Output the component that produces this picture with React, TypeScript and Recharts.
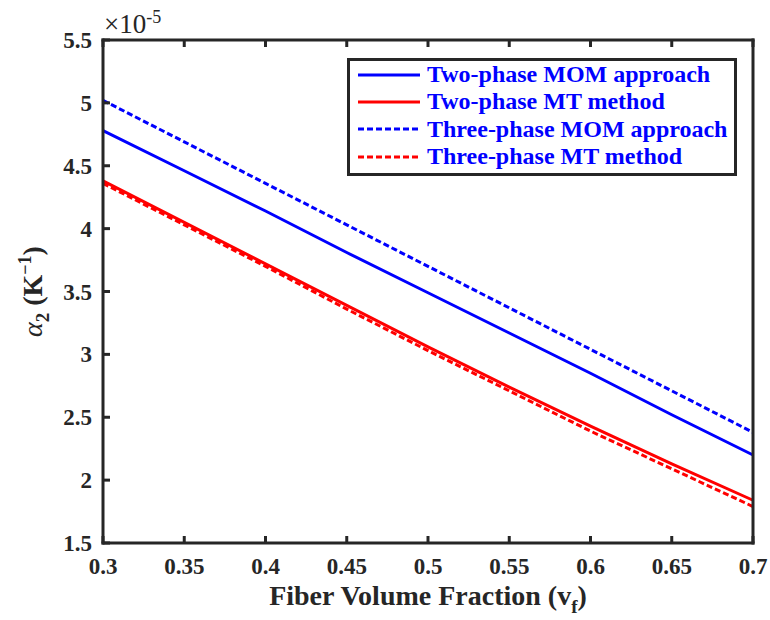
import { Label, Legend, Line, LineChart, XAxis, YAxis } from "recharts";

const vf = [0.3, 0.35, 0.4, 0.45, 0.5, 0.55, 0.6, 0.65, 0.7];
const twoPhaseMOM = [4.78, 4.46, 4.14, 3.81, 3.49, 3.17, 2.85, 2.52, 2.2];
const twoPhaseMT = [4.38, 4.05, 3.72, 3.39, 3.06, 2.74, 2.43, 2.13, 1.84];
const threePhaseMOM = [5.02, 4.69, 4.36, 4.03, 3.7, 3.37, 3.04, 2.71, 2.38];
const threePhaseMT = [4.36, 4.03, 3.7, 3.36, 3.03, 2.71, 2.39, 2.09, 1.79];

const xTicks = [0.3, 0.35, 0.4, 0.45, 0.5, 0.55, 0.6, 0.65, 0.7];
const yTicks = [1.5, 2, 2.5, 3, 3.5, 4, 4.5, 5, 5.5];

const series = [
  { key: "twoMOM", name: "Two-phase MOM approach", color: "#0000ff", dash: undefined },
  { key: "twoMT", name: "Two-phase MT method", color: "#ff0000", dash: undefined },
  { key: "threeMOM", name: "Three-phase MOM approach", color: "#0000ff", dash: "6 3" },
  { key: "threeMT", name: "Three-phase MT method", color: "#ff0000", dash: "6 3" },
];

const rows = vf.map((v, i) => ({
  vf: v,
  twoMOM: twoPhaseMOM[i],
  twoMT: twoPhaseMT[i],
  threeMOM: threePhaseMOM[i],
  threeMT: threePhaseMT[i],
}));

const font = "Liberation Serif, Tinos, DejaVu Serif, serif";
const ink = "#262626";
const axisLine = { stroke: ink, strokeWidth: 3, strokeLinecap: "square" as const };

function BottomTick({ x, y, payload }: any) {
  return (
    <g>
      <line x1={x} y1={y} x2={x} y2={y - 7} stroke={ink} strokeWidth={3} />
      <text x={x} y={y + 31} textAnchor="middle" style={{ fontFamily: font }} fontWeight="bold" fontSize={23} fill={ink}>
        {String(payload.value)}
      </text>
    </g>
  );
}

function TopTick({ x, y }: any) {
  return <line x1={x} y1={y} x2={x} y2={y + 7} stroke={ink} strokeWidth={3} />;
}

function LeftTick({ x, y, payload }: any) {
  return (
    <g>
      <line x1={x} y1={y} x2={x + 7} y2={y} stroke={ink} strokeWidth={3} />
      <text x={x - 11} y={y + 8} textAnchor="end" style={{ fontFamily: font }} fontWeight="bold" fontSize={23} fill={ink}>
        {String(payload.value)}
      </text>
    </g>
  );
}

function RightTick({ x, y }: any) {
  return <line x1={x} y1={y} x2={x - 7} y2={y} stroke={ink} strokeWidth={3} />;
}

function LegendBox() {
  return (
    <div
      style={{
        width: 384,
        height: 112,
        border: `3px solid ${ink}`,
        background: "#fff",
        boxSizing: "content-box",
      }}
    >
      {series.map((s) => (
        <div key={s.key} style={{ display: "flex", alignItems: "center", height: 27.3 }}>
          <svg width={77} height={10} style={{ flex: "none" }}>
            <line x1={8} y1={5} x2={70} y2={5} stroke={s.color} strokeWidth={3} strokeDasharray={s.dash} />
          </svg>
          <span style={{ fontFamily: font, fontWeight: "bold", fontSize: 24, color: "#0000ff", whiteSpace: "nowrap" }}>
            {s.name}
          </span>
        </div>
      ))}
    </div>
  );
}

function XTitle({ viewBox }: any) {
  const cx = viewBox.x + viewBox.width / 2;
  return (
    <text x={cx} y={viewBox.y + 62} textAnchor="middle" style={{ fontFamily: font }} fontWeight="bold" fontSize={28} fill={ink}>
      Fiber Volume Fraction (v
      <tspan fontSize={19} dy={8}>f</tspan>
      <tspan dy={-8}>)</tspan>
    </text>
  );
}

function YTitle({ viewBox }: any) {
  const cx = viewBox.x - 1;
  const cy = viewBox.y + viewBox.height / 2;
  return (
    <text
      x={cx}
      y={cy}
      transform={`rotate(-90, ${cx}, ${cy})`}
      textAnchor="middle"
      style={{ fontFamily: font }}
      fontWeight="bold"
      fontSize={28}
      fill={ink}
    >
      <tspan fontStyle="italic" fontWeight="normal">α</tspan>
      <tspan fontSize={19} dy={7}>2</tspan>
      <tspan dy={-7}> (K</tspan>
      <tspan fontSize={18} dy={-11}>−1</tspan>
      <tspan dy={11}>)</tspan>
    </text>
  );
}

function Multiplier({ viewBox }: any) {
  return (
    <text x={viewBox.x + 1} y={viewBox.y - 6} style={{ fontFamily: font }} fontSize={27} fill={ink}>
      ×10
      <tspan fontSize={18} dy={-10}>-5</tspan>
    </text>
  );
}

export default function App() {
  return (
    <div style={{ position: "absolute", left: 0, top: 0, width: 770, height: 620, background: "#fff" }}>
      <LineChart width={770} height={620} data={rows} margin={{ top: 39, right: 16, bottom: 17, left: 43 }}>
        <XAxis
          dataKey="vf"
          type="number"
          domain={[0.3, 0.7]}
          ticks={xTicks}
          height={60}
          tickSize={0}
          tickMargin={0}
          tick={BottomTick}
          axisLine={axisLine}
          tickLine={false}
        >
          <Label content={XTitle} />
        </XAxis>
        <XAxis
          xAxisId="top"
          orientation="top"
          dataKey="vf"
          type="number"
          domain={[0.3, 0.7]}
          ticks={xTicks}
          height={1}
          tickSize={0}
          tickMargin={0}
          tick={TopTick}
          axisLine={axisLine}
          tickLine={false}
        >
          <Label content={Multiplier} />
        </XAxis>
        <YAxis
          type="number"
          domain={[1.5, 5.5]}
          ticks={yTicks}
          width={60}
          tickSize={0}
          tickMargin={0}
          tick={LeftTick}
          axisLine={axisLine}
          tickLine={false}
        >
          <Label content={YTitle} />
        </YAxis>
        <YAxis
          yAxisId="right"
          orientation="right"
          type="number"
          domain={[1.5, 5.5]}
          ticks={yTicks}
          width={1}
          tickSize={0}
          tickMargin={0}
          tick={RightTick}
          axisLine={axisLine}
          tickLine={false}
        />
        {series.map((s) => (
          <Line
            key={s.key}
            dataKey={s.key}
            name={s.name}
            type="linear"
            stroke={s.color}
            strokeWidth={3}
            strokeDasharray={s.dash}
            dot={false}
            isAnimationActive={false}
          />
        ))}
        <Legend
          layout="horizontal"
          verticalAlign="middle"
          align="center"
          content={LegendBox}
          wrapperStyle={{ left: 347, top: 58, width: 390, height: 118 }}
        />
      </LineChart>
    </div>
  );
}
